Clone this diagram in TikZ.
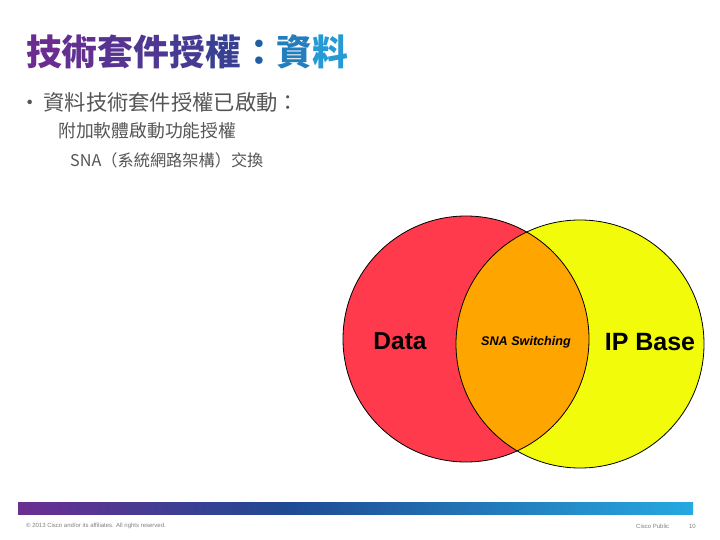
\documentclass[tikz,border=0pt]{standalone}
\usepackage{fontspec}
\setmainfont{Liberation Sans}
\newfontfamily\cjk{Noto Sans CJK TC}
\usetikzlibrary{shadings}
\definecolor{ttA}{HTML}{6A2C91}
\definecolor{ttB}{HTML}{1F4B93}
\definecolor{ttC}{HTML}{27A8E0}
\definecolor{redc}{HTML}{FF3A4D}
\definecolor{yelc}{HTML}{F2FC0A}
\definecolor{orac}{HTML}{FFA500}
\definecolor{txtg}{HTML}{555555}
\pgfdeclarehorizontalshading{barshade}{100bp}{rgb(0bp)=(0.42,0.18,0.57); rgb(25bp)=(0.42,0.18,0.57); rgb(45bp)=(0.12,0.29,0.58); rgb(75bp)=(0.15,0.66,0.88); rgb(100bp)=(0.15,0.66,0.88)}
\tikzset{
  bodytxt/.style={anchor=west, inner sep=0pt, text=txtg},
  venn/.style={draw=black, line width=0.8pt},
  foot/.style={inner sep=0pt, text=gray, font=\fontsize{6}{7}\selectfont}
}
\begin{document}
\begin{tikzpicture}[x=1pt,y=-1pt]
\useasboundingbox (0,0) rectangle (720,540);
\fill[white] (0,0) rectangle (720,540);
% title
\node[anchor=west, inner sep=0pt, font=\cjk\bfseries\fontsize{35.8}{38}\selectfont] (title) at (26,52)
 {\textcolor{ttA!100!ttB}{技}\textcolor{ttA!88!ttB}{術}\textcolor{ttA!76!ttB}{套}\textcolor{ttA!64!ttB}{件}\textcolor{ttA!50!ttB}{授}\textcolor{ttA!35!ttB}{權}\textcolor{ttB!80!ttC}{：}\textcolor{ttB!45!ttC}{資}\textcolor{ttB!15!ttC}{料}};
% bullets
\node[bodytxt, font=\cjk\fontsize{21.3}{23}\selectfont] (b1) at (19,102) {•\hspace{3pt}資料技術套件授權已啟動：};
\node[bodytxt, font=\cjk\fontsize{17.8}{20}\selectfont] (b2) at (58,131) {附加軟體啟動功能授權};
\node[bodytxt, font=\cjk\fontsize{16.2}{18}\selectfont] (b3) at (70,160) {SNA（系統網路架構）交換};
% venn
\fill[yelc] (580,344) circle (124);
\fill[redc] (466,339) circle (123);
\begin{scope}
  \clip (466,339) circle (123);
  \fill[orac] (580,344) circle (124);
\end{scope}
\draw[venn] (466,339) circle (123);
\draw[venn] (580,344) circle (124);
\node[font=\bfseries\fontsize{24.5}{27}\selectfont] (data) at (400,341) {Data};
\node[font=\bfseries\itshape\fontsize{12.6}{14}\selectfont] (sna) at (526,342) {SNA Switching};
\node[font=\bfseries\fontsize{25}{28}\selectfont] (ip) at (650,342) {IP Base};
% footer
\shade[shading=barshade] (18,502) rectangle (693,514);
\node[foot, anchor=west] (copy) at (26,526) {© 2013 Cisco and/or its affiliates. All rights reserved.};
\node[foot, anchor=west] (pub) at (636,526) {Cisco Public};
\node[foot, anchor=east] (pg) at (696,526) {10};
\end{tikzpicture}
\end{document}
